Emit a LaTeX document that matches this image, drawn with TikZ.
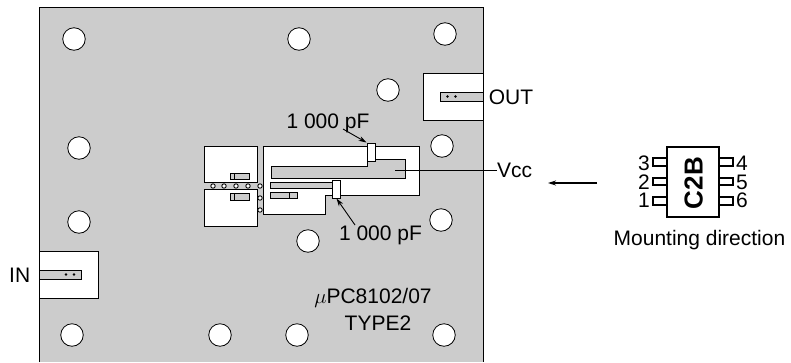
\documentclass[tikz,border=0pt]{standalone}
\usepackage{fontspec}
\setmainfont{Liberation Sans}
\usetikzlibrary{arrows.meta}
\begin{document}
\begin{tikzpicture}[x=1pt,y=-1pt]

\def\rh{22.5pt}
\def\rv{4.4pt}
\definecolor{board}{gray}{0.8}
\tikzstyle{hole} = [
	draw, fill=white, circle, inner sep=0pt,
	line width=.8pt, minimum size=\rh ];
\tikzstyle{via} = [
	draw, fill=white, circle, inner sep=0pt,
	line width=.9pt, minimum size=\rv ];
\tikzstyle{dotmark} = [fill=black, circle, inner sep=0pt, minimum size=2.8pt];
\tikzstyle{capbox} = [
	draw, fill=white, rectangle, inner sep=0pt,
	line width=1pt, minimum width=8pt, minimum height=18pt ];
\tikzstyle{pinbox} = [
	draw, fill=white, rectangle, inner sep=0pt,
	line width=1.6pt, minimum width=14pt, minimum height=7.5pt ];
\tikzstyle{lbl} = [
	anchor=base, inner sep=0pt,
	font=\fontsize{21}{24}\selectfont ];
\tikzstyle{pad} = [draw, fill=white, line width=1pt];
\tikzstyle{trace} = [draw, fill=board, line width=1pt];
\tikzstyle{leader} = [-{Stealth[length=8pt,width=5pt]}, line width=.9pt];
\useasboundingbox (0,0) rectangle (791,362);

% board
\draw[fill=board,line width=1pt] (39,362) -- (39,7.5) -- (483,7.5) -- (483,362);

\node[hole] (h0) at (74,39) {};
\node[hole] (h1) at (299,39) {};
\node[hole] (h2) at (445,34) {};
\node[hole] (h3) at (388,90) {};
\node[hole] (h4) at (442,146) {};
\node[hole] (h5) at (79,148) {};
\node[hole] (h6) at (79,222) {};
\node[hole] (h7) at (441,220) {};
\node[hole] (h8) at (308,241) {};
\node[hole] (h9) at (72,335) {};
\node[hole] (h10) at (220,335) {};
\node[hole] (h11) at (297,335) {};
\node[hole] (h12) at (444,335) {};

% input and output
\draw[pad] (39,251) rectangle (98,298);
\draw[trace] (39,270) rectangle (81,279);
\node[dotmark] (in0) at (66,274.5) {};
\node[dotmark] (in1) at (74,274.5) {};
\draw[pad] (483,73) -- (423,73) -- (423,120) -- (483,120);
\draw[trace] (483,92) -- (440,92) -- (440,101) -- (483,101);
\node[dotmark] (out0) at (447.5,96.5) {};
\node[dotmark] (out1) at (455.5,96.5) {};

% left islands
\draw[pad] (204,146) rectangle (257,182);
\draw[pad] (204,189) rectangle (257,226);
\draw[trace] (230,173) rectangle (249,179);
\draw[trace] (230,193) rectangle (249,200);
\draw (234,173) -- (234,179);
\draw (234,193) -- (234,200);

\node[via] (v0) at (213,186) {};
\node[via] (v1) at (224,186) {};
\node[via] (v2) at (236,186) {};
\node[via] (v3) at (248,186) {};
\node[via] (v4) at (260,186) {};
\node[via] (v5) at (260,198) {};
\node[via] (v6) at (260,210) {};

% main copper
\draw[pad] (263,146) -- (419,146) -- (419,195) -- (325,195) -- (325,214) -- (263,214) -- cycle;
\draw[trace] (271,166) -- (367,166) -- (367,159) -- (405,159) -- (405,178) -- (271,178) -- cycle;
\draw[trace] (270,182) rectangle (335,188);
\draw[trace] (270,192) rectangle (297,198);
\draw (289,192) -- (289,198);
\node[capbox] (capA) at (371,152) {};
\node[capbox] (capB) at (336.5,189) {};

% labels
\node[lbl] (pfA) at (328,128.5) {1 000 pF};
\node[lbl] (pfB) at (380.5,240.7) {1 000 pF};
\node[lbl] (lblOut) at (511,104) {OUT};
\node[lbl] (lblIn) at (19.7,282.7) {IN};
\node[lbl] (lblVcc) at (514.5,177) {Vcc};
\node[lbl] (lblType) at (373,303) {$\mu$PC8102/07};
\node[lbl] (lblTwo) at (378,330) {TYPE2};

\coordinate (pfAs) at (343,129);
\coordinate (pfBs) at (355,225);
\coordinate (vccs) at (395,170);
\draw[leader] (pfAs) -- (capA.north west);
\draw[leader] (pfBs) -- (capB.south);
\draw[line width=1pt] (vccs) -- (lblVcc.west |- vccs);

% package
\node[pinbox] (p3) at (660,162) {};
\node[pinbox] (p2) at (660,181.5) {};
\node[pinbox] (p1) at (660,201) {};
\node[pinbox] (p4) at (726,162) {};
\node[pinbox] (p5) at (726,181.5) {};
\node[pinbox] (p6) at (726,201) {};
\node[draw,fill=white,rectangle,line width=1.6pt,minimum width=52pt,minimum height=70pt] (ic) at (693,182) {};
\node[anchor=base,inner sep=0pt,rotate=90,font=\fontsize{26}{28}\selectfont\bfseries] (mark) at (702.7,183) {C2B};

\node[lbl] (n3) at (644,170) {3};
\node[lbl] (n2) at (644,189) {2};
\node[lbl] (n1) at (644,207.7) {1};
\node[lbl] (n4) at (742,170) {4};
\node[lbl] (n5) at (742,189) {5};
\node[lbl] (n6) at (742,207.7) {6};
\node[lbl] (lblDir) at (699.5,245) {Mounting direction};

\coordinate (dirs) at (597,183);
\coordinate (dire) at (548,183);
\draw[leader,line width=1.1pt] (dirs) -- (dire);

\end{tikzpicture}
\end{document}
